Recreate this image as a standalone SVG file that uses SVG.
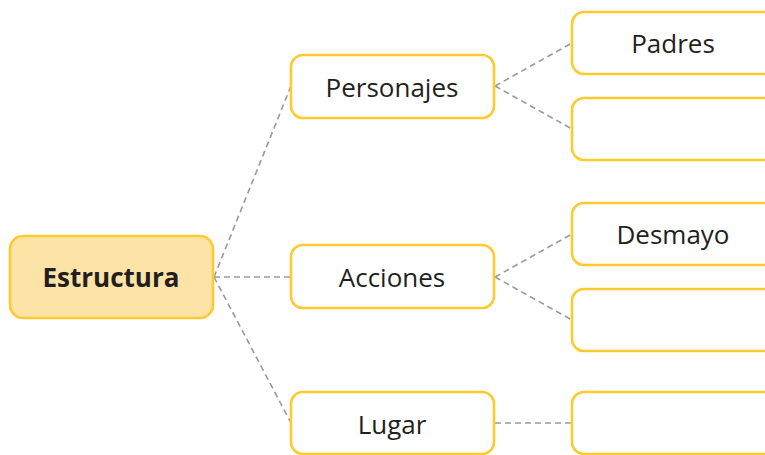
<svg xmlns="http://www.w3.org/2000/svg" width="765" height="455" viewBox="0 0 765 455">
<style>
.box{fill:#fff;stroke:#FDCB30;stroke-width:2.6}
.root{fill:#FDE3A6;stroke:#FDCB30;stroke-width:2.6}
.t{font-family:"Open Sans","Noto Sans",sans-serif;font-size:26px;fill:#231f20;text-anchor:middle;dominant-baseline:central}
.tb{font-weight:bold}
.c{stroke:#9a9a9a;stroke-width:1.6;stroke-dasharray:6 4;fill:none}
</style>
<rect width="765" height="455" fill="#fff"/>
<g id="connectors">
<line class="c" x1="214" y1="277" x2="291" y2="86"/>
<line class="c" x1="214" y1="277" x2="291" y2="277"/>
<line class="c" x1="214" y1="277" x2="291" y2="423"/>
<line class="c" x1="495" y1="86" x2="572" y2="43"/>
<line class="c" x1="495" y1="86" x2="572" y2="129"/>
<line class="c" x1="495" y1="277" x2="572" y2="234"/>
<line class="c" x1="495" y1="277" x2="572" y2="320"/>
<line class="c" x1="495" y1="423" x2="572" y2="423"/>
</g>
<g id="estructura"><rect class="root" x="10" y="236" width="203" height="82" rx="13"/><text class="t tb" x="111" y="277">Estructura</text></g>
<g id="personajes"><rect class="box" x="291" y="55" width="203" height="63" rx="12"/><text class="t" x="392" y="87">Personajes</text></g>
<g id="acciones"><rect class="box" x="291" y="245" width="203" height="63" rx="12"/><text class="t" x="392" y="277">Acciones</text></g>
<g id="lugar"><rect class="box" x="291" y="392" width="203" height="62" rx="12"/><text class="t" x="392" y="424">Lugar</text></g>
<g id="padres"><rect class="box" x="572" y="12" width="210" height="62" rx="12"/><text class="t" x="673" y="43">Padres</text></g>
<g id="empty1"><rect class="box" x="572" y="98" width="210" height="62" rx="12"/></g>
<g id="desmayo"><rect class="box" x="572" y="203" width="210" height="62" rx="12"/><text class="t" x="673" y="234">Desmayo</text></g>
<g id="empty2"><rect class="box" x="572" y="289" width="210" height="62" rx="12"/></g>
<g id="empty3"><rect class="box" x="572" y="392" width="210" height="62" rx="12"/></g>
</svg>
